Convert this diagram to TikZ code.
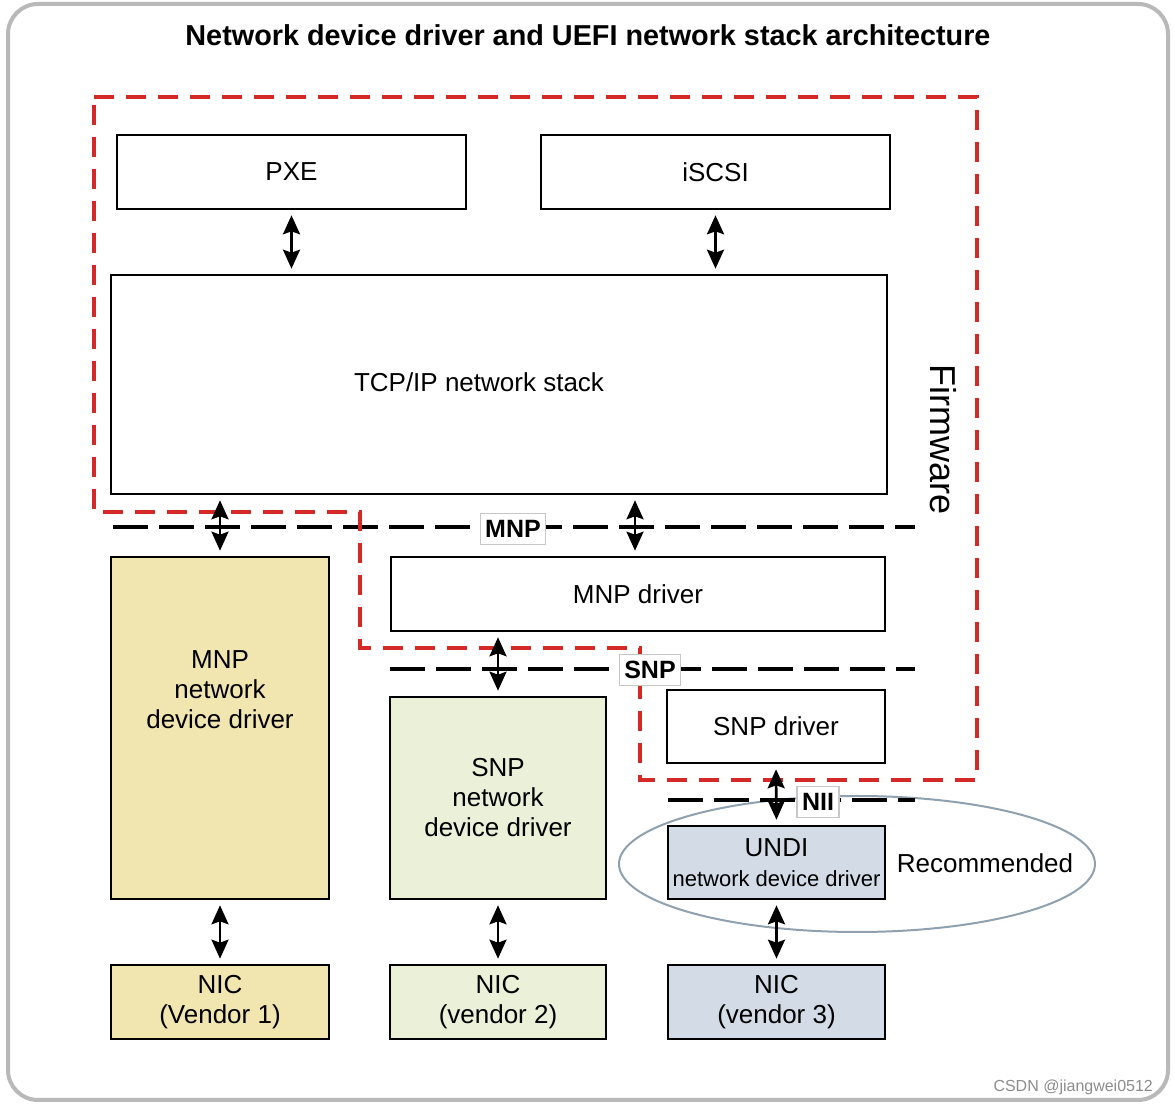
\documentclass[tikz,border=0pt]{standalone}
\usepackage{fontspec}
\setmainfont{Liberation Sans}
\usepackage{xcolor}
\usepackage{tikz}
\usetikzlibrary{arrows.meta}
\usetikzlibrary{shapes}

\definecolor{mnpyellow}{HTML}{F2E6B0}
\definecolor{snpgreen}{HTML}{EBF0D9}
\definecolor{undiblue}{HTML}{D3DCE6}
\definecolor{fwred}{HTML}{D42A27}
\definecolor{framegray}{HTML}{B9B9B9}
\definecolor{ovalgray}{HTML}{8FA1AE}

\begin{document}
\begin{tikzpicture}[x=0.5pt, y=-0.5pt,
  box/.style={draw, line width=1.3pt, rectangle, inner sep=0pt, align=center,
    font=\fontsize{13}{15}\selectfont},
  ifbox/.style={draw=black!22, fill=white, line width=0.6pt, inner xsep=2.5pt,
    minimum height=14pt, font=\bfseries\fontsize{12.5}{14}\selectfont},
  ifline/.style={line width=2pt, dash pattern=on 17.5pt off 5.5pt},
  dbl/.style={{Stealth[length=9.5pt,width=8.5pt,inset=1.5pt]}-{Stealth[length=9.5pt,width=8.5pt,inset=1.5pt]},
    line width=1.3pt, shorten <=2.5pt, shorten >=2.5pt}]
\useasboundingbox (0,0) rectangle (1175,1106);

% frame and title
\draw [framegray, line width=2pt, rounded corners=15pt] (8,4) rectangle (1168,1100);
\node [font=\bfseries\fontsize{14.4}{16}\selectfont] (title) at (588,35)
{Network device driver and UEFI network stack architecture};

% recommended oval
\draw [ovalgray, line width=1pt] (857,864) ellipse [x radius=119pt, y radius=34pt];
\node [font=\fontsize{13}{15}\selectfont] (rec) at (985,863) {Recommended};

% interface lines
\draw [ifline] (113,527) -- (915,527);
\draw [ifline] (390,669) -- (915,669);
\draw [ifline] (668,800) -- (915,800);

% upper stack
\node [box, minimum width=174.5pt, minimum height=37pt] (pxe) at (291.5,172) {PXE};
\node [box, minimum width=174.5pt, minimum height=37pt] (iscsi) at (715.5,172) {iSCSI};
\node [box, minimum width=388pt, minimum height=109.5pt] (tcpip) at (499,384.5) {};
\node [font=\fontsize{13}{15}\selectfont] (tcpiptxt) at (479,382) {TCP/IP network stack};

% drivers
\node [box, minimum width=247pt, minimum height=37pt] (mnpdrv) at (638,594) {MNP driver};
\node [box, fill=mnpyellow, minimum width=109pt, minimum height=171pt] (mnpdev) at (220,728) {};
\node [align=center, font=\fontsize{13}{15}\selectfont] (mnpdevtxt) at (220,690)
{MNP\\network\\device driver};
\node [box, fill=snpgreen, minimum width=108pt, minimum height=101pt] (snpdev) at (498,798)
{SNP\\network\\device driver};
\node [box, minimum width=109pt, minimum height=36.5pt] (snpdrv) at (776,726.5) {SNP driver};
\node [box, fill=undiblue, minimum width=108.5pt, minimum height=36.5pt] (undi) at (776.5,862.5)
{UNDI\\{\fontsize{11}{13}\selectfont network device driver}};

% NICs
\node [box, fill=mnpyellow, minimum width=109pt, minimum height=37pt] (nic1) at (220,1002) {NIC\\(Vendor 1)};
\node [box, fill=snpgreen, minimum width=108pt, minimum height=37pt] (nic2) at (498,1002) {NIC\\(vendor 2)};
\node [box, fill=undiblue, minimum width=108.5pt, minimum height=37pt] (nic3) at (776.5,1002) {NIC\\(vendor 3)};

% firmware boundary
\draw [fwred, line width=2pt, dash pattern=on 10pt off 6pt] (94,97) -- (977,97) -- (977,780)
-- (640,780) -- (640,648) -- (360,648) -- (360,512) -- (94,512) -- cycle;
\node [rotate=-90, font=\fontsize{18}{20}\selectfont] (fw) at (943,440) {Firmware};

% interface labels
\node [ifbox] (mnp) at (513,529) {MNP};
\node [ifbox] (snp) at (650,670) {SNP};
\node [ifbox] (nii) at (818,802) {NII};

% arrows
\draw [dbl] (pxe.south) -- (pxe.south |- tcpip.north);
\draw [dbl] (iscsi.south) -- (iscsi.south |- tcpip.north);
\draw [dbl] (mnpdev.north |- tcpip.south) -- (mnpdev.north);
\draw [dbl] ([xshift=-1.5pt]tcpip.south -| mnpdrv.north) -- ([xshift=-1.5pt]mnpdrv.north);
\draw [dbl] (snpdev.north |- mnpdrv.south) -- (snpdev.north);
\draw [dbl] (snpdrv.south) -- (undi.north);
\draw [dbl] (mnpdev.south) -- (nic1.north);
\draw [dbl] (snpdev.south) -- (nic2.north);
\draw [dbl] (undi.south) -- (nic3.north);

\node [text=black!45, font=\fontsize{8}{9}\selectfont, anchor=east] (csdn) at (1160,1087)
{CSDN @jiangwei0512};
\end{tikzpicture}
\end{document}
